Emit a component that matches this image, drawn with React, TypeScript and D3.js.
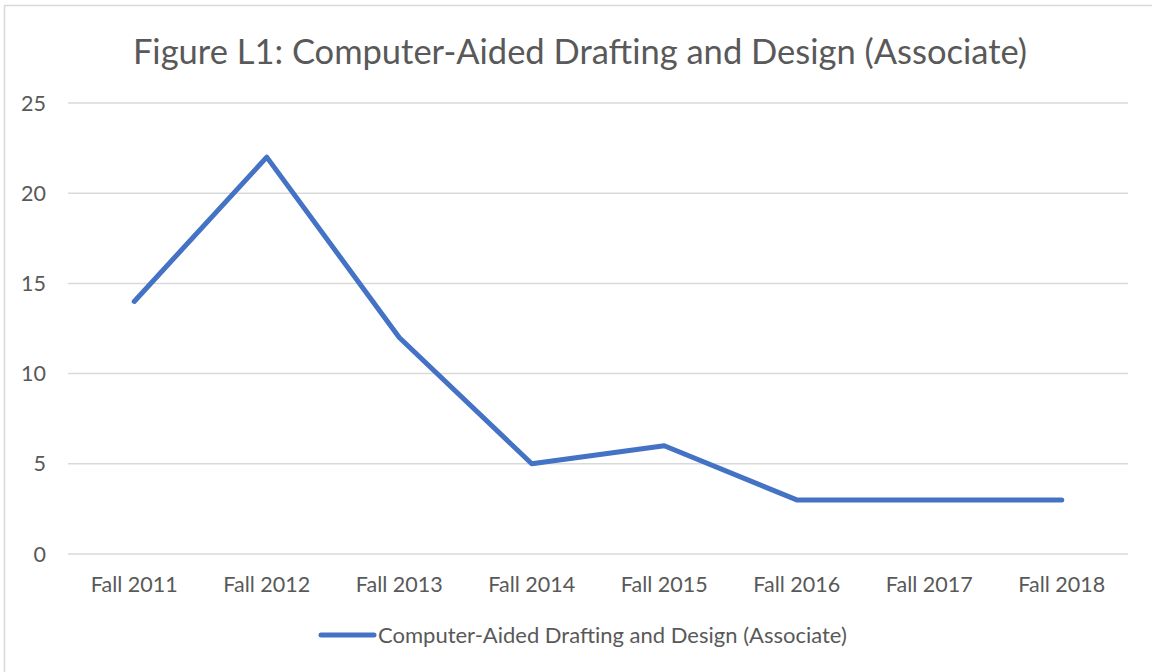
import React from "react";
import * as d3 from "d3";

const categories = ["Fall 2011", "Fall 2012", "Fall 2013", "Fall 2014", "Fall 2015", "Fall 2016", "Fall 2017", "Fall 2018"];
const values = [14, 22, 12, 5, 6, 3, 3, 3];
const yTicks = [0, 5, 10, 15, 20, 25];
const seriesName = "Computer-Aided Drafting and Design (Associate)";
const title = "Figure L1: Computer-Aided Drafting and Design (Associate)";

const W = 1152, H = 672;
const left = 68, right = 1128, top = 103, bottom = 554;
const font = "Lato, Carlito, Calibri, sans-serif";
const color = "#4472C4";

export default function App() {
  const x = d3.scaleBand<string>().domain(categories).range([left, right]);
  const y = d3.scaleLinear().domain([0, 25]).range([bottom, top]);
  const line = d3.line<number>()
    .x((_, i) => (x(categories[i]) as number) + x.bandwidth() / 2)
    .y((d) => y(d));
  return (
    <svg width={W} height={H} style={{ position: "absolute", left: 0, top: 0, background: "#fff" }}>
      <rect x={4.5} y={5.5} width={1160} height={680} fill="#fff" stroke="#d9d9d9" strokeWidth={1.5} />
      <text x={580} y={64} textAnchor="middle" fontFamily={font} fontSize={34.5} fill="#595959">{title}</text>
      {yTicks.map((t) => (
        <g key={t}>
          <line x1={left} x2={right} y1={y(t)} y2={y(t)} stroke="#d9d9d9" strokeWidth={1.5} />
          <text x={46} y={y(t) + 7.5} textAnchor="end" fontFamily={font} fontSize={21.5} fill="#595959">{t}</text>
        </g>
      ))}
      {categories.map((c) => (
        <text key={c} x={(x(c) as number) + x.bandwidth() / 2} y={592} textAnchor="middle" fontFamily={font} fontSize={21.5} fill="#595959">{c}</text>
      ))}
      <path d={line(values) || ""} fill="none" stroke={color} strokeWidth={5} strokeLinejoin="round" strokeLinecap="round" />
      <line x1={321} x2={374} y1={635} y2={635} stroke={color} strokeWidth={5} strokeLinecap="round" />
      <text x={378} y={642.5} fontFamily={font} fontSize={22} fill="#595959">{seriesName}</text>
    </svg>
  );
}
